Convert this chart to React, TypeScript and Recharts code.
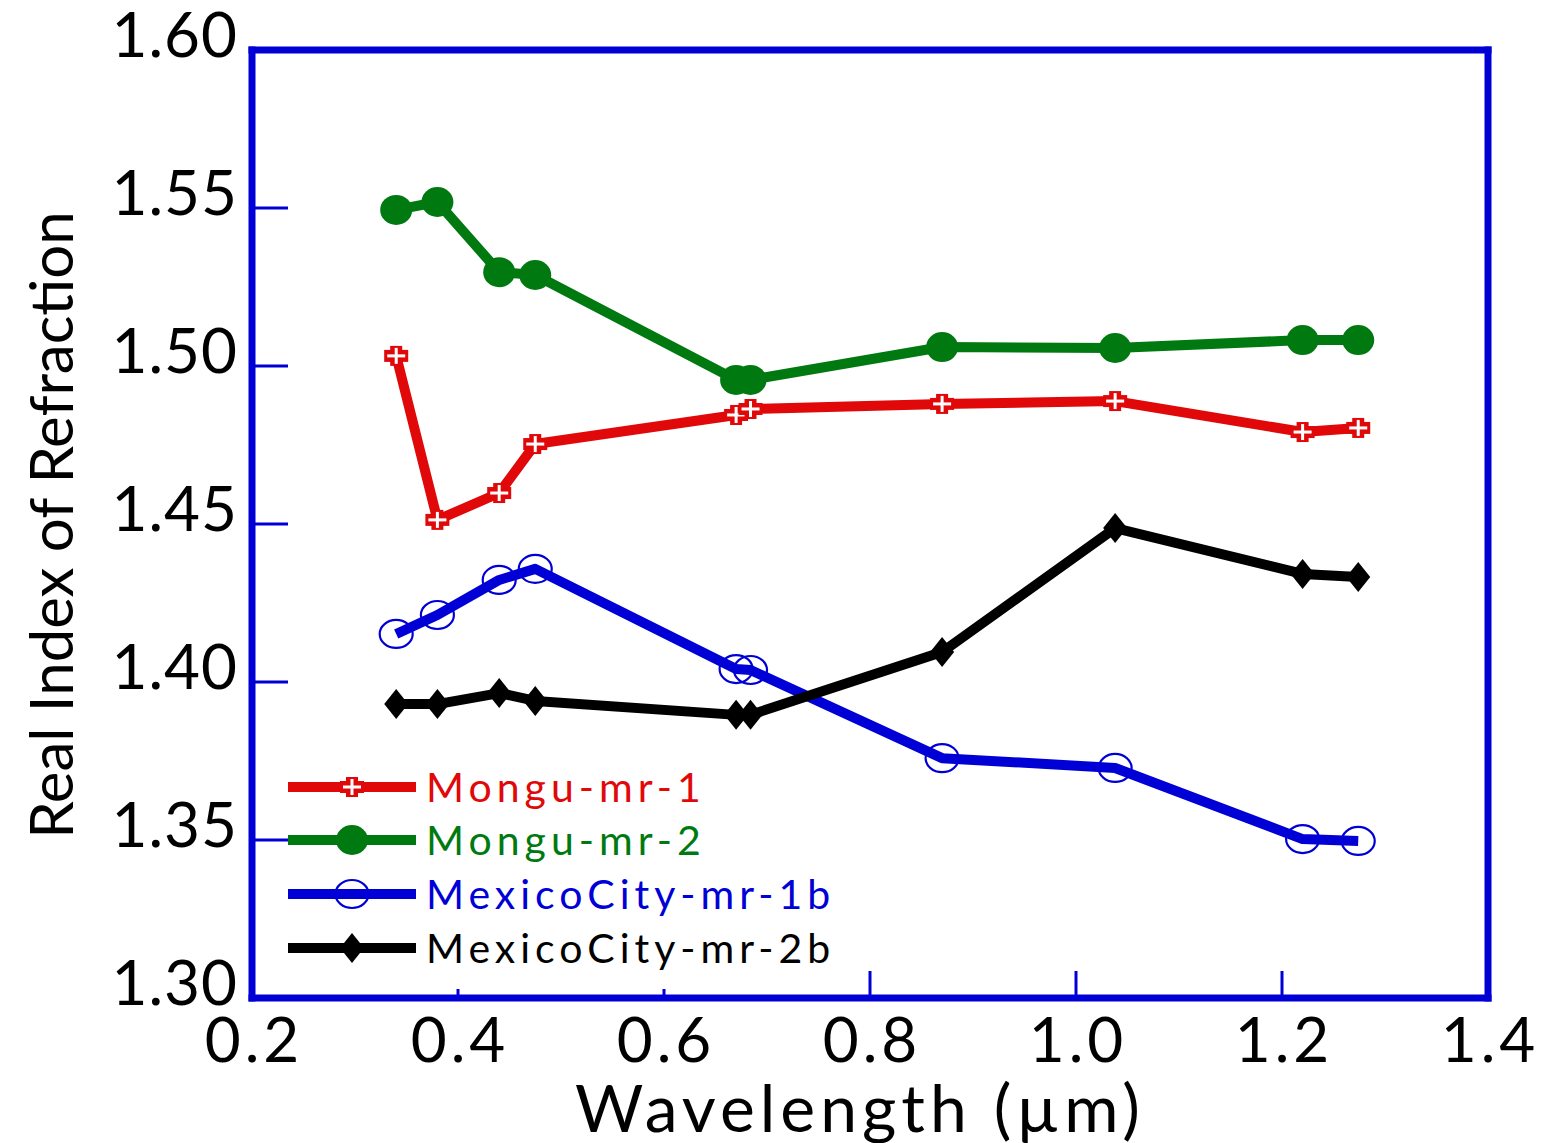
import React from 'react';
import { LineChart, Line, XAxis, YAxis, Legend } from 'recharts';

// ---- data ----
const wavelengths = [0.34, 0.38, 0.44, 0.475, 0.67, 0.684, 0.87, 1.038, 1.22, 1.274];
const monguMr1 = [1.5032, 1.4513, 1.4598, 1.4753, 1.4845, 1.4864, 1.488, 1.4889, 1.4791, 1.4804];
const monguMr2 = [1.5494, 1.5519, 1.5297, 1.5288, 1.4956, 1.4956, 1.506, 1.5057, 1.5082, 1.5082];
const mexicoMr1b = [1.4152, 1.4212, 1.4323, 1.4358, 1.4041, 1.4038, 1.3759, 1.3728, 1.3503, 1.3497];
const mexicoMr2b = [1.393, 1.393, 1.3965, 1.394, 1.3896, 1.3896, 1.4095, 1.4487, 1.4342, 1.4332];
const xTicks = [0.2, 0.4, 0.6, 0.8, 1.0, 1.2, 1.4];
const yTicks = [1.3, 1.35, 1.4, 1.45, 1.5, 1.55, 1.6];
const seriesNames = ['Mongu-mr-1', 'Mongu-mr-2', 'MexicoCity-mr-1b', 'MexicoCity-mr-2b'];
const xTitle = 'Wavelength (µm)';
const yTitle = 'Real Index of Refraction';

const data = wavelengths.map((w, i) => ({
  w,
  m1: monguMr1[i],
  m2: monguMr2[i],
  x1b: mexicoMr1b[i],
  x2b: mexicoMr2b[i],
}));

const FRAME = '#0000d6';
const RED = '#e00808';
const GREEN = '#007a10';
const BLUE = '#0000d6';
const BLACK = '#000000';
const FONT = 'Lato, "DejaVu Sans", sans-serif';

const PlusMark = ({ cx, cy, color }: any) => (
  <g>
    <rect x={cx - 12} y={cy - 6} width={24} height={12} fill={color} />
    <rect x={cx - 6} y={cy - 10} width={12} height={20} fill={color} />
    <rect x={cx - 9} y={cy - 1.5} width={18} height={3} fill="#fff" />
    <rect x={cx - 1.5} y={cy - 8} width={3} height={16} fill="#fff" />
  </g>
);
const DiscMark = ({ cx, cy, color }: any) => <ellipse cx={cx} cy={cy} rx={16} ry={15} fill={color} />;
const RingMark = ({ cx, cy, color }: any) => (
  <ellipse cx={cx} cy={cy} rx={16.5} ry={14} fill="none" stroke={color} strokeWidth={2.2} />
);
const DiamondMark = ({ cx, cy, color }: any) => (
  <polygon points={`${cx},${cy - 15} ${cx + 12},${cy} ${cx},${cy + 15} ${cx - 12},${cy}`} fill={color} />
);

const mkDot = (Comp: any, color: string) => (p: any) => {
  if (p.cx == null || p.cy == null) return <g key={p.key} />;
  return (
    <g key={p.key}>
      <Comp cx={p.cx} cy={p.cy} color={color} />
    </g>
  );
};

const seriesMeta = [
  { key: 'm1', name: seriesNames[0], color: RED, mark: PlusMark },
  { key: 'm2', name: seriesNames[1], color: GREEN, mark: DiscMark },
  { key: 'x1b', name: seriesNames[2], color: BLUE, mark: RingMark },
  { key: 'x2b', name: seriesNames[3], color: BLACK, mark: DiamondMark },
];

const YTick = (props: any) => {
  const { x, y, payload } = props;
  return (
    <text x={x} y={y + 7} textAnchor="end" fontFamily={FONT} fontSize={62} letterSpacing={1} fill="#000">
      {Number(payload.value).toFixed(2)}
    </text>
  );
};
const XTick = (props: any) => {
  const { x, y, payload } = props;
  return (
    <text x={x + 2} y={y} textAnchor="middle" fontFamily={FONT} fontSize={62} letterSpacing={4} fill="#000">
      {Number(payload.value).toFixed(1)}
    </text>
  );
};

const XTitle = (props: any) => {
  const vb = props.viewBox || { x: 252, y: 998, width: 1236, height: 145 };
  return (
    <text
      x={vb.x + vb.width / 2 - 10}
      y={vb.y + 134}
      textAnchor="middle"
      fontFamily={FONT}
      fontSize={66}
      letterSpacing={5}
      fill="#000"
    >
      {xTitle}
    </text>
  );
};
const YTitle = (props: any) => {
  const vb = props.viewBox || { x: 0, y: 50, width: 252, height: 948 };
  const cx = 50;
  const cy = vb.y + vb.height / 2 + 1;
  return (
    <text
      x={cx}
      y={cy}
      transform={`rotate(-90 ${cx} ${cy})`}
      textAnchor="middle"
      dominantBaseline="central"
      fontFamily={FONT}
      fontSize={60}
      fill="#000"
    >
      {yTitle}
    </text>
  );
};

const LegendBox = () => {
  const rows = [32, 85, 139, 193];
  return (
    <svg width={570} height={234} style={{ display: 'block' }}>
      <rect x={14} y={0} width={556} height={234} fill="#fff" />
      {seriesMeta.map((s, i) => {
        const Mark = s.mark;
        const cy = rows[i];
        return (
          <g key={s.key}>
            <line x1={8} x2={136} y1={cy} y2={cy} stroke={s.color} strokeWidth={10} />
            <Mark cx={72} cy={cy} color={s.color} />
            <text x={146} y={cy + 15} fontFamily={FONT} fontSize={41} letterSpacing={5} fill={s.color}>
              {s.name}
            </text>
          </g>
        );
      })}
    </svg>
  );
};

export default function App() {
  return (
    <div style={{ position: 'absolute', left: 0, top: 0, width: 1552, height: 1143, background: '#fff' }}>
      <LineChart width={1552} height={1143} data={data} margin={{ top: 49, right: 63, bottom: 0, left: 0 }}>
        <XAxis
          xAxisId={0}
          dataKey="w"
          type="number"
          domain={[0.2, 1.4]}
          ticks={xTicks}
          interval={0}
          allowDataOverflow
          height={145}
          axisLine={{ stroke: FRAME, strokeWidth: 7, strokeLinecap: 'square' }}
          tickLine={{ stroke: FRAME, strokeWidth: 3 }}
          tickSize={-27}
          tickMargin={91}
          tick={<XTick />}
          label={<XTitle />}
        />
        <XAxis
          xAxisId="top"
          orientation="top"
          dataKey="w"
          type="number"
          domain={[0.2, 1.4]}
          ticks={xTicks}
          interval={0}
          allowDataOverflow
          height={1}
          axisLine={{ stroke: FRAME, strokeWidth: 7, strokeLinecap: 'square' }}
          tickLine={{ stroke: FRAME, strokeWidth: 3 }}
          tickSize={-30}
          tick={false}
        />
        <YAxis
          yAxisId={0}
          type="number"
          domain={[1.3, 1.6]}
          ticks={yTicks}
          interval={0}
          allowDataOverflow
          width={252}
          axisLine={{ stroke: FRAME, strokeWidth: 7, strokeLinecap: 'square' }}
          tickLine={{ stroke: FRAME, strokeWidth: 3 }}
          tickSize={-36}
          tickMargin={50}
          tick={<YTick />}
          label={<YTitle />}
        />
        <YAxis
          yAxisId="right"
          orientation="right"
          type="number"
          domain={[1.3, 1.6]}
          ticks={yTicks}
          interval={0}
          allowDataOverflow
          width={1}
          axisLine={{ stroke: FRAME, strokeWidth: 7, strokeLinecap: 'square' }}
          tickLine={{ stroke: FRAME, strokeWidth: 3 }}
          tickSize={-34}
          tick={false}
        />
        {seriesMeta.map((s) => (
          <Line
            key={s.key}
            xAxisId={0}
            yAxisId={0}
            type="linear"
            dataKey={s.key}
            name={s.name}
            stroke={s.color}
            strokeWidth={10}
            strokeLinejoin="round"
            dot={mkDot(s.mark, s.color)}
            activeDot={false}
            isAnimationActive={false}
          />
        ))}
        <Legend
          layout="vertical"
          align="center"
          verticalAlign="middle"
          wrapperStyle={{ left: 280, top: 755, width: 570, height: 234 }}
          content={<LegendBox />}
        />
      </LineChart>
    </div>
  );
}
